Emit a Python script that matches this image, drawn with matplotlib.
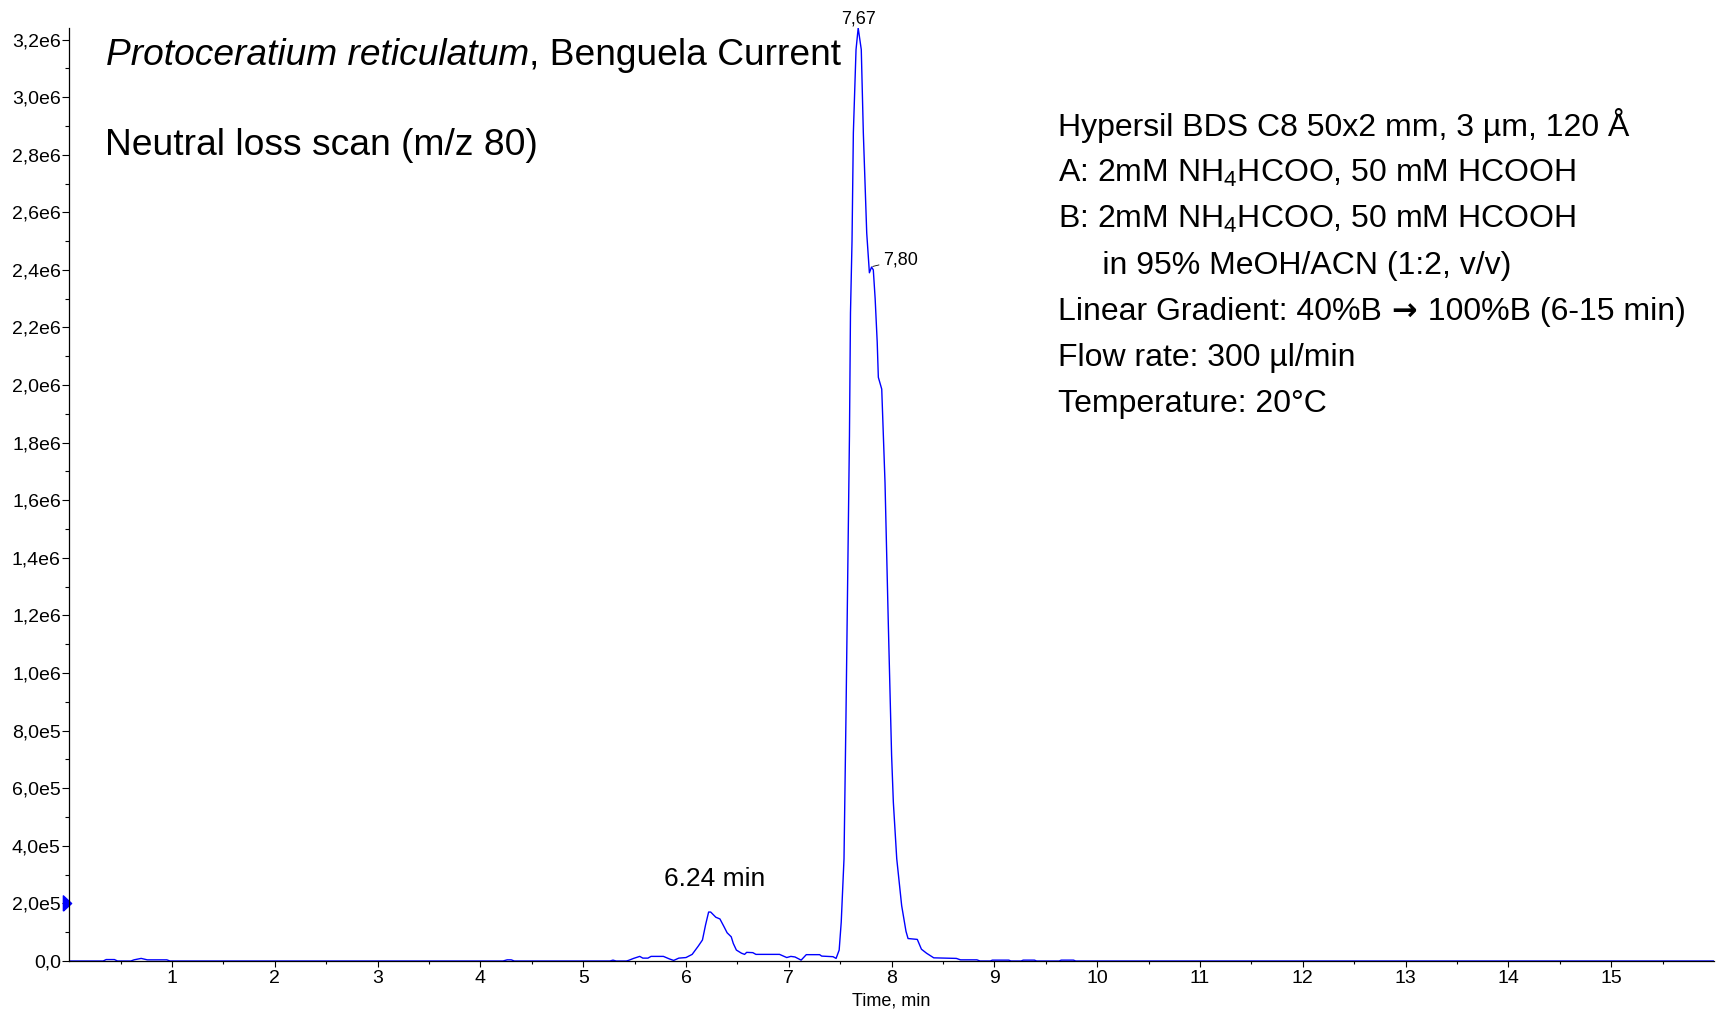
import matplotlib
matplotlib.use("Agg")
import matplotlib.pyplot as plt
from matplotlib.ticker import MultipleLocator, FuncFormatter, FixedLocator
import matplotlib.transforms as mtransforms

plt.rcParams['font.family'] = ['Liberation Sans', 'DejaVu Sans']
plt.rcParams['mathtext.fontset'] = 'custom'
plt.rcParams['mathtext.rm'] = 'Liberation Sans'
plt.rcParams['mathtext.it'] = 'Liberation Sans:italic'
plt.rcParams['mathtext.bf'] = 'Liberation Sans:bold'

# ---- data (retention time in min, intensity in cps) ----
time_min = [0.0, 0.33, 0.36, 0.44, 0.47, 0.60, 0.63, 0.70, 0.76, 0.95, 0.98,
            4.22, 4.26, 4.30, 4.33, 5.26, 5.29, 5.32, 5.42, 5.44, 5.49, 5.55,
            5.58, 5.63, 5.66, 5.78, 5.84, 5.88, 5.93, 6.00, 6.06, 6.12, 6.16,
            6.19, 6.22, 6.24, 6.29, 6.33, 6.37, 6.40, 6.44, 6.46, 6.49, 6.54,
            6.57, 6.59, 6.65, 6.68, 6.91, 6.98, 7.02, 7.06, 7.12, 7.17, 7.30,
            7.32, 7.43, 7.46, 7.49, 7.51, 7.537, 7.556, 7.573, 7.59, 7.60,
            7.615, 7.628, 7.654, 7.675, 7.705, 7.725, 7.758, 7.784, 7.805,
            7.822, 7.84, 7.86, 7.871, 7.904, 7.936, 7.968, 8.00, 8.017, 8.05,
            8.098, 8.14, 8.16, 8.25, 8.29, 8.34, 8.41, 8.63, 8.67, 8.83, 8.86,
            8.96, 8.98, 9.14, 9.16, 9.26, 9.28, 9.39, 9.41, 9.63, 9.65, 9.77,
            9.79, 16.0]
intensity = [0, 0, 5e3, 5e3, 0, 0, 4e3, 9e3, 4e3, 4e3, 0,
             0, 4e3, 4e3, 0, 0, 3e3, 0, 0, 2e3, 9e3, 16e3,
             10e3, 10e3, 16e3, 16e3, 7e3, 2e3, 10e3, 12e3, 23e3, 52e3, 73e3,
             125e3, 170e3, 170e3, 152e3, 146e3, 119e3, 98e3, 84e3, 61e3, 38e3, 27e3,
             23e3, 30e3, 29e3, 23e3, 23e3, 12e3, 16e3, 14e3, 3e3, 22e3, 22e3,
             17e3, 15e3, 9e3, 38e3, 135e3, 355e3, 845e3, 1.334e6, 1.823e6, 2.25e6,
             2.5e6, 2.876e6, 3.165e6, 3.24e6, 3.165e6, 2.876e6, 2.528e6, 2.39e6, 2.41e6,
             2.40e6, 2.30e6, 2.149e6, 2.027e6, 1.986e6, 1.66e6, 1.171e6, 0.714e6, 0.551e6, 0.355e6,
             0.192e6, 0.103e6, 78e3, 75e3, 41e3, 27e3, 11e3, 9e3, 4e3, 4e3, 0,
             0, 3e3, 3e3, 0, 0, 3e3, 3e3, 0, 0, 3e3, 3e3,
             0, 0]

peak_labels = ["7,67", "7,80"]
peak_times = [7.675, 7.817]
peak_values = [3.24e6, 2.412e6]

title_italic = "Protoceratium reticulatum"
title_rest = ", Benguela Current"
subtitle = "Neutral loss scan (m/z 80)"
minor_peak_label = "6.24 min"
method_lines = [
    "Hypersil BDS C8 50x2 mm, 3 µm, 120 Å",
    "A: 2mM NH$_4$HCOO, 50 mM HCOOH",
    "B: 2mM NH$_4$HCOO, 50 mM HCOOH",
    "     in 95% MeOH/ACN (1:2, v/v)",
    ("Linear Gradient: 40%B ", "→", " 100%B (6-15 min)"),
    "Flow rate: 300 µl/min",
    "Temperature: 20°C",
]
x_ticks = list(range(1, 16))
x_label = "Time, min"

W, H = 1719, 1013
fig = plt.figure(figsize=(W / 100, H / 100), dpi=100)
ax_left, ax_right, ax_bottom, ax_top = 69.2, 1714.0, 961.0, 28.0
ax = fig.add_axes([ax_left / W, 1 - ax_bottom / H,
                   (ax_right - ax_left) / W, (ax_bottom - ax_top) / H])

ax.plot(time_min, intensity, color='#0000ff', lw=1.0, zorder=2)
ax.set_xlim(0, 16)
ax.set_ylim(0, 3.24e6)

for s in ['top', 'right']:
    ax.spines[s].set_visible(False)
for s in ['left', 'bottom']:
    ax.spines[s].set_linewidth(0.9)
    ax.spines[s].set_color('black')

ax.xaxis.set_major_locator(FixedLocator(x_ticks))
ax.xaxis.set_minor_locator(FixedLocator([t + 0.5 for t in range(0, 16)]))
ax.yaxis.set_major_locator(MultipleLocator(2e5))
ax.yaxis.set_minor_locator(MultipleLocator(1e5))


def yfmt(v, pos):
    if abs(v) < 1:
        return "0,0"
    if v < 1e6:
        s = f"{v / 1e5:.1f}e5"
    else:
        s = f"{v / 1e6:.1f}e6"
    return s.replace('.', ',')


ax.yaxis.set_major_formatter(FuncFormatter(yfmt))
ax.tick_params(axis='y', which='major', length=5, width=0.8, labelsize=14, pad=1)
ax.tick_params(axis='y', which='minor', length=3, width=0.8)
ax.tick_params(axis='x', which='major', length=4.3, width=0.8, labelsize=14, pad=2)
ax.tick_params(axis='x', which='minor', length=2.5, width=0.8)
ax.set_xlabel(x_label, fontsize=13, labelpad=4)

# peak labels
ax.annotate(peak_labels[0], xy=(peak_times[0], peak_values[0]), xytext=(0, 3.6),
            textcoords='offset points', ha='center', va='baseline', fontsize=13,
            annotation_clip=False)
ax.annotate(peak_labels[1], xy=(peak_times[1], peak_values[1]), xytext=(20, 1.6),
            textcoords='offset points', ha='center', va='baseline', fontsize=13,
            arrowprops=dict(arrowstyle='-', lw=0.6, color='black', shrinkA=1, shrinkB=0))
ax.text(6.28, 2.6e5, minor_peak_label, ha='center', va='baseline', fontsize=19)

# marker on y axis at 2e5
trans = mtransforms.blended_transform_factory(ax.transAxes, ax.transData)
tri = [(-0.27, -0.5), (0.27, 0.0), (-0.27, 0.5), (-0.27, -0.5)]
ax.plot([-0.0014], [2.0e5], marker=tri, markersize=11, color='#0000ff',
        transform=trans, clip_on=False, lw=0)

# titles
t1 = fig.text(106 / W, 1 - 65 / H, title_italic, fontsize=26.75, style='italic',
              ha='left', va='baseline')
ax.annotate(title_rest, xy=(1, 0), xycoords=t1, xytext=(0, 0),
            textcoords='offset points', fontsize=26.75, ha='left', va='bottom',
            annotation_clip=False)
fig.text(105 / W, 1 - 155 / H, subtitle, fontsize=26.8, ha='left', va='baseline')

# method text block
for i, line in enumerate(method_lines):
    y = 1 - (136 + 46.04 * i) / H
    if isinstance(line, tuple):
        a = fig.text(1058 / W, y, line[0], fontsize=23, ha='left', va='baseline')
        b = ax.annotate(line[1], xy=(1, 0), xycoords=a, xytext=(0, 0),
                        textcoords='offset points', fontsize=22, ha='left',
                        va='bottom', family='DejaVu Sans', weight='bold',
                        annotation_clip=False)
        ax.annotate(line[2], xy=(1, 0), xycoords=a, xytext=(20.5, 0),
                    textcoords='offset points', fontsize=23, ha='left',
                    va='bottom', annotation_clip=False)
    else:
        fig.text(1058 / W, y, line, fontsize=23, ha='left', va='baseline')

fig.savefig("out.png", dpi=100)
